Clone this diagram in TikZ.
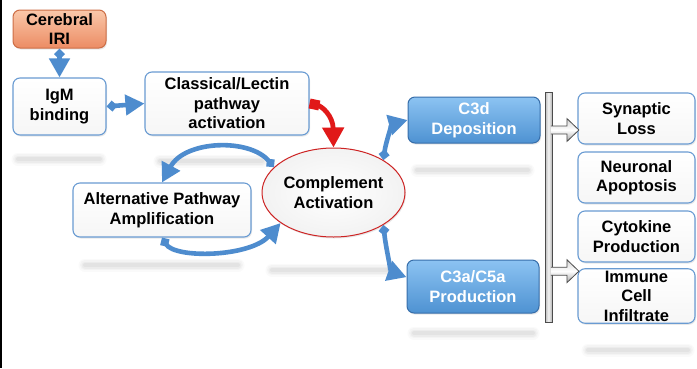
\documentclass[tikz,border=0pt]{standalone}
\usepackage{fontspec}
\setmainfont{Liberation Sans}
\usetikzlibrary{arrows.meta,shapes.geometric,shadows,calc}

\definecolor{linkblue}{RGB}{78,140,206}
\definecolor{boxedge}{RGB}{105,155,210}
\definecolor{blueedge}{RGB}{55,110,170}
\definecolor{bluetop}{RGB}{140,195,242}
\definecolor{bluebot}{RGB}{78,146,210}
\definecolor{orangetop}{RGB}{250,200,170}
\definecolor{orangebot}{RGB}{236,140,100}
\definecolor{orangeedge}{RGB}{205,110,70}
\definecolor{redlink}{RGB}{225,25,25}
\definecolor{rededge}{RGB}{205,35,35}

\newcommand\diagfont{\bfseries\fontsize{16.5}{19.5}\selectfont}

\tikzset{
  softshadow/.style={drop shadow={opacity=0.18, shadow xshift=1pt, shadow yshift=-1.5pt}},
  whitebox/.style={rectangle, rounded corners=7pt, draw=boxedge, line width=1.1pt,
    top color=white, bottom color=gray!7, align=center, font=\diagfont,
    inner sep=2pt, softshadow},
  bluebox/.style={rectangle, rounded corners=7pt, draw=blueedge, line width=1pt,
    top color=bluetop, bottom color=bluebot, align=center, font=\diagfont,
    text=white, inner sep=2pt, softshadow},
  startbox/.style={rectangle, rounded corners=7pt, draw=orangeedge, line width=1pt,
    top color=orangetop, bottom color=orangebot, align=center, font=\diagfont,
    inner sep=1pt, softshadow},
  hub/.style={ellipse, draw=rededge, line width=1pt, inner color=white,
    outer color=gray!10, align=center, font=\diagfont, softshadow},
  link/.style={draw=linkblue, line width=4.6pt,
    {Diamond[width=11pt,length=11pt]}-{Triangle[width=20pt,length=19pt]}},
  redarrow/.style={draw=redlink, line width=4.8pt,
    {Square[width=10pt,length=10pt]}-{Triangle[width=21pt,length=20pt]}},
  rail/.style={rectangle, draw=gray!60!black, line width=0.8pt,
    left color=gray!55, right color=gray!60, middle color=gray!8, inner sep=0pt},
  railarrow/.style={draw=gray!60!black, line width=0.8pt,
    top color=gray!35, bottom color=gray!70, middle color=white},
  glow/.style={line cap=round, draw=gray!70}
}

\newcommand\groundshade[3]{%
  \foreach \w/\o in {13/0.05,10/0.07,7/0.09,4/0.12}{
    \draw[glow, line width=\w pt, draw opacity=\o] (#1,#3) -- (#2,#3);
  }}

\begin{document}
\begin{tikzpicture}[x=1pt,y=-1pt]
  \useasboundingbox (0,0) rectangle (697,368);
  \fill[white] (0,0) rectangle (697,368);
  \draw[black, line width=1.6pt] (0.8,0) -- (0.8,368);

  % soft floor shadows under the boxes
  \groundshade{18}{100}{159}
  \groundshade{160}{262}{161}
  \groundshade{85}{238}{265}
  \groundshade{272}{392}{270}
  \groundshade{417}{528}{170}
  \groundshade{414}{533}{333}
  \groundshade{588}{688}{350}

  % boxes
  \node[startbox, minimum width=93pt, minimum height=38pt] (iri) at (59.5,29) {Cerebral\\IRI};
  \node[whitebox, minimum width=93pt, minimum height=57pt] (igm) at (59.5,106.5) {IgM\\binding};
  \node[whitebox, minimum width=164pt, minimum height=63pt] (cls) at (227,103.5) {Classical/Lectin\\pathway\\activation};
  \node[whitebox, minimum width=178pt, minimum height=54pt] (alt) at (162,210) {Alternative Pathway\\Amplification};
  \node[hub, minimum width=143pt, minimum height=89pt, inner sep=0pt] (cpl) at (333.5,192.5) {Complement\\Activation};
  \node[bluebox, minimum width=132pt, minimum height=46pt] (c3d) at (474,120) {C3d\\Deposition};
  \node[bluebox, minimum width=132pt, minimum height=53pt] (c3a) at (473,286.5) {C3a/C5a\\Production};

  \node[whitebox, minimum width=117pt, minimum height=51pt] (syn) at (636.5,118.5) {Synaptic\\Loss};
  \node[whitebox, minimum width=117pt, minimum height=51pt] (neu) at (636.5,177.5) {Neuronal\\Apoptosis};
  \node[whitebox, minimum width=117pt, minimum height=51pt] (cyt) at (636.5,236.5) {Cytokine\\Production};
  \node[whitebox, minimum width=117pt, minimum height=51pt] (imm) at (636.5,296) {Immune\\Cell\\Infiltrate};

  % vertical rail with its two outlets
  \node[rail, minimum width=7pt, minimum height=230pt] (bar) at (548.5,207) {};
  \coordinate (g1) at ($(bar.east |- syn.center)+(-1.5,11.5)$);
  \coordinate (g2) at ($(bar.east |- imm.north)+(-1.5,3)$);
  \foreach \g in {g1,g2}{
    \path[railarrow] (\g) ++(0,-4) -- ++(16,0) -- ++(0,-7.5) -- ++(12,11.5)
      -- ++(-12,11.5) -- ++(0,-7.5) -- ++(-16,0);
  }

  % connectors
  \draw[link] (iri.south) -- (igm.north);
  \draw[link] (igm.east) -- (cls.west);
  \draw[redarrow] (cls.east) .. controls (322,106) and (333,116) .. (cpl.north);
  \draw[link] (cpl.157) .. controls (250,138) and (185,140) .. (alt.north);
  \draw[link] (alt.south) .. controls (175,259) and (250,257) .. (cpl.-150);
  \draw[link] (cpl.33) .. controls (386,140) and (393,124) .. (c3d.west);
  \draw[link] (cpl.-33) .. controls (386,250) and (392,272) .. (c3a.172);
\end{tikzpicture}
\end{document}
